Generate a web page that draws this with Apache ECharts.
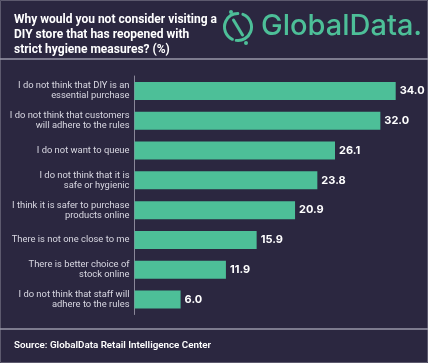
<!DOCTYPE html>
<html><head><meta charset="utf-8">
<script src="https://cdn.jsdelivr.net/npm/echarts@6/dist/echarts.min.js"></script>
<style>html,body{margin:0;padding:0;background:#2b2740;}#c{width:428px;height:363px;}</style>
</head><body><div id="c"></div>
<script>
var categories = [
  "I do not think that DIY is an\nessential purchase",
  "I do not think that customers\nwill adhere to the rules",
  "I do not want to queue",
  "I do not think that it is\nsafe or hygienic",
  "I think it is safer to purchase\nproducts online",
  "There is not one close to me",
  "There is better choice of\nstock online",
  "I do not think that staff will\nadhere to the rules"
];
var values = [34.0, 32.0, 26.1, 23.8, 20.9, 15.9, 11.9, 6.0];
var titleText = "Why would you not consider visiting a\nDIY store that has reopened with\nstrict hygiene measures? (%)";
var sourceText = "Source: GlobalData Retail Intelligence Center";

var green = '#4dbf98';
var chart = echarts.init(document.getElementById('c'));
chart.setOption({
  backgroundColor: '#2b2740',
  animation: false,
  title: {
    text: titleText, left: 9, top: 7,
    textStyle: {color: '#ffffff', fontFamily: 'Roboto', fontWeight: 'bold', fontSize: 12, lineHeight: 15}
  },
  grid: {left: 134.5, right: 32.3, top: 76, bottom: 48.5, containLabel: false},
  xAxis: {type: 'value', min: 0, max: 34, show: false},
  yAxis: {
    type: 'category', data: categories, inverse: true,
    axisLine: {show: true, lineStyle: {color: '#8a8799', width: 1}},
    axisTick: {show: false},
    axisLabel: {color: '#d9d8e2', fontFamily: 'Roboto', fontSize: 9.4, lineHeight: 10, margin: 5, align: 'right'}
  },
  series: [{
    type: 'bar', data: values, barWidth: 18,
    itemStyle: {color: green},
    label: {show: true, position: 'right', distance: 4, color: '#ffffff', fontFamily: 'Inter', fontWeight: 'bold', fontSize: 11,
      formatter: function(p){ return p.value.toFixed(1); }}
  }],
  graphic: [
    {type: 'rect', shape: {x: 0.5, y: 0.5, width: 427, height: 362}, style: {fill: 'none', stroke: '#5d5a6e', lineWidth: 1}, silent: true},
    {type: 'line', shape: {x1: 0, y1: 59, x2: 428, y2: 59}, style: {stroke: '#9a98a8', lineWidth: 1.5}},
    {type: 'line', shape: {x1: 0, y1: 329, x2: 428, y2: 329}, style: {stroke: '#9a98a8', lineWidth: 1.5}},
    {type: 'text', left: 14, top: 341, style: {text: sourceText, fill: '#ffffff', font: '600 9.8px Roboto'}},
    {type: 'arc', shape: {cx: 238, cy: 27, r: 13.5, startAngle: -1.2, endAngle: 1.7}, style: {stroke: green, lineWidth: 3, fill: 'none', lineCap: 'round'}},
    {type: 'arc', shape: {cx: 238, cy: 27, r: 13.5, startAngle: 2.0, endAngle: 4.7}, style: {stroke: green, lineWidth: 3, fill: 'none', lineCap: 'round'}},
    {type: 'line', shape: {x1: 233.5, y1: 20, x2: 242.5, y2: 35}, style: {stroke: green, lineWidth: 3, lineCap: 'round'}},
    {type: 'circle', shape: {cx: 231, cy: 12, r: 2}, style: {fill: green}},
    {type: 'circle', shape: {cx: 246, cy: 43, r: 2}, style: {fill: green}},
    {type: 'text', left: 261, top: 12, style: {text: 'GlobalData.', fill: green, font: '500 29px Inter'}}
  ]
});
</script></body></html>
